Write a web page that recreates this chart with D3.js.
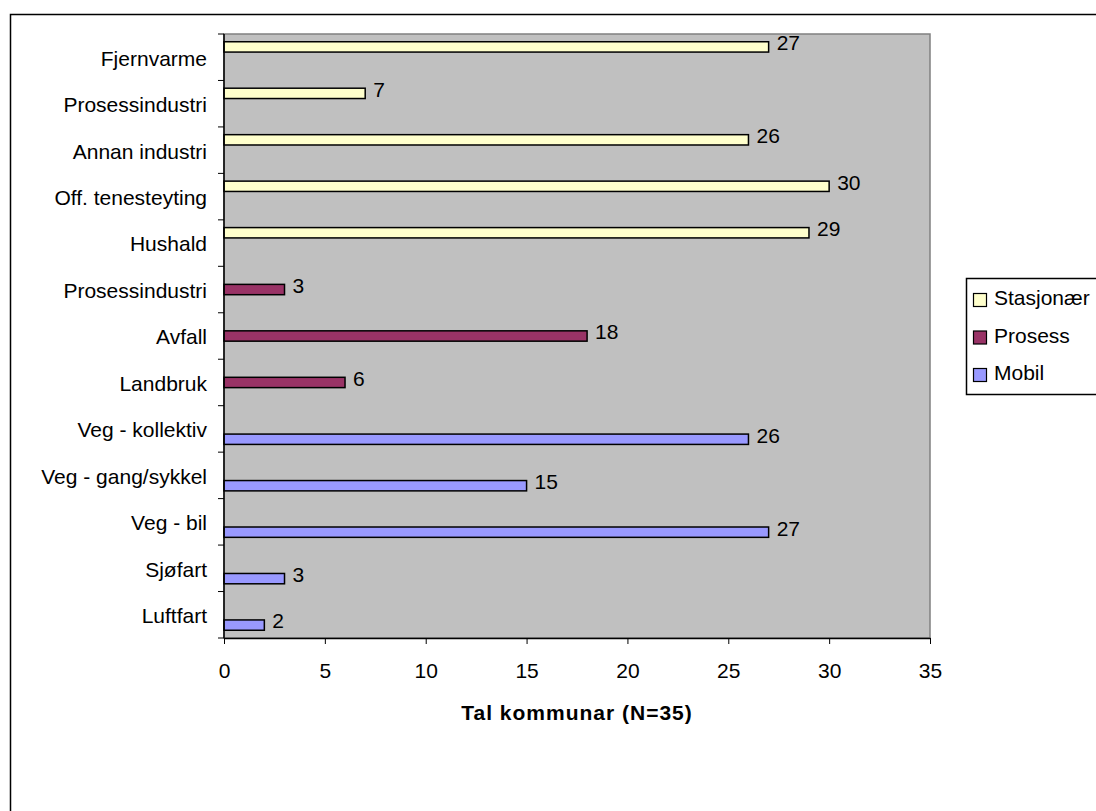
<!DOCTYPE html>
<html>
<head>
<meta charset="utf-8">
<script src="https://cdn.jsdelivr.net/npm/d3@7"></script>
<style>
  body { margin: 0; background: #fff; }
  svg { display: block; font-family: "Liberation Sans", Arial, sans-serif; }
</style>
</head>
<body>
<svg id="chart" width="1096" height="811"></svg>
<script>
// data
var categories = ["Fjernvarme", "Prosessindustri", "Annan industri", "Off. tenesteyting", "Hushald",
    "Prosessindustri", "Avfall", "Landbruk",
    "Veg - kollektiv", "Veg - gang/sykkel", "Veg - bil", "Sjøfart", "Luftfart"];
var seriesNames = ["Stasjonær", "Prosess", "Mobil"];
var seriesOf = ["Stasjonær", "Stasjonær", "Stasjonær", "Stasjonær", "Stasjonær",
    "Prosess", "Prosess", "Prosess",
    "Mobil", "Mobil", "Mobil", "Mobil", "Mobil"];
var values = [27, 7, 26, 30, 29, 3, 18, 6, 26, 15, 27, 3, 2];
var xTicks = [0, 5, 10, 15, 20, 25, 30, 35];
var axisTitle = "Tal kommunar (N=35)";

var colors = { "Stasjonær": "#FFFFCC", "Prosess": "#993366", "Mobil": "#9999FF" };

var svg = d3.select("#chart");

var plotLeft = 224, plotRight = 930, plotTop = 34, plotBottom = 638;
var fontSize = 21;

// outer chart border
svg.append("rect")
    .attr("x", 10.5).attr("y", 14.5)
    .attr("width", 1200).attr("height", 900)
    .attr("fill", "#fff")
    .attr("stroke", "#000")
    .attr("stroke-width", 1.5);

var x = d3.scaleLinear().domain([0, 35]).range([plotLeft, plotRight]);
var idx = d3.range(categories.length);
var y = d3.scaleBand().domain(idx).range([plotTop, plotBottom]);
var yInner = d3.scaleBand().domain(seriesNames).range([0, y.bandwidth()])
    .paddingInner(0).paddingOuter(0.75);

// plot area
svg.append("rect")
    .attr("x", plotLeft).attr("y", plotTop)
    .attr("width", plotRight - plotLeft).attr("height", plotBottom - plotTop)
    .attr("fill", "#C0C0C0")
    .attr("stroke", "#808080")
    .attr("stroke-width", 1.5);

// bars
var rows = idx.map(function (i) {
    return { i: i, name: categories[i], series: seriesOf[i], value: values[i] };
});

svg.append("g").selectAll("rect")
    .data(rows)
    .enter()
    .append("rect")
    .attr("x", x(0))
    .attr("y", function (d) { return y(d.i) + yInner(d.series); })
    .attr("width", function (d) { return x(d.value) - x(0); })
    .attr("height", yInner.bandwidth())
    .attr("fill", function (d) { return colors[d.series]; })
    .attr("stroke", "#000")
    .attr("stroke-width", 1.5);

// value labels
svg.append("g").selectAll("text")
    .data(rows)
    .enter()
    .append("text")
    .attr("x", function (d) { return x(d.value) + 8; })
    .attr("y", function (d) { return y(d.i) + yInner(d.series) + yInner.bandwidth() / 2 - 4; })
    .attr("dy", "0.35em")
    .attr("font-size", fontSize)
    .attr("fill", "#000")
    .text(function (d) { return d.value; });

// x axis
var xAxis = svg.append("g")
    .attr("transform", "translate(0," + plotBottom + ")")
    .call(d3.axisBottom(x).tickValues(xTicks).tickSize(6).tickPadding(19).tickSizeOuter(0));
xAxis.select(".domain").attr("stroke", "#000").attr("stroke-width", 1.5);
xAxis.selectAll(".tick line").attr("stroke", "#000");
xAxis.selectAll("text")
    .attr("font-size", fontSize)
    .attr("font-family", "Liberation Sans, Arial, sans-serif")
    .attr("fill", "#000");

// y axis
var yTickPos = d3.range(categories.length + 1).map(function (i) { return plotTop + i * y.step(); });
var yAxis = svg.append("g");
yAxis.append("line")
    .attr("x1", plotLeft).attr("x2", plotLeft)
    .attr("y1", plotTop).attr("y2", plotBottom)
    .attr("stroke", "#000").attr("stroke-width", 1.5);
yAxis.selectAll("line.tick")
    .data(yTickPos)
    .enter()
    .append("line")
    .attr("class", "tick")
    .attr("x1", plotLeft - 6).attr("x2", plotLeft)
    .attr("y1", function (d) { return d; }).attr("y2", function (d) { return d; })
    .attr("stroke", "#000");
yAxis.selectAll("text")
    .data(idx)
    .enter()
    .append("text")
    .attr("x", 207)
    .attr("y", function (i) { return y(i) + y.bandwidth() / 2 + 1; })
    .attr("dy", "0.35em")
    .attr("text-anchor", "end")
    .attr("font-size", fontSize)
    .text(function (i) { return categories[i]; });

// axis title
svg.append("text")
    .attr("x", (plotLeft + plotRight) / 2)
    .attr("y", 720)
    .attr("text-anchor", "middle")
    .attr("font-size", fontSize)
    .attr("font-weight", "bold")
    .attr("letter-spacing", 1)
    .text(axisTitle);

// legend
var legend = svg.append("g");
legend.append("rect")
    .attr("x", 966.5).attr("y", 278.5)
    .attr("width", 200).attr("height", 116)
    .attr("fill", "#fff")
    .attr("stroke", "#000")
    .attr("stroke-width", 1.5);
var legendRow = d3.scalePoint().domain(seriesNames).range([299, 374]);
var items = legend.selectAll("g.item")
    .data(seriesNames)
    .enter()
    .append("g")
    .attr("class", "item")
    .attr("transform", function (d) { return "translate(973," + legendRow(d) + ")"; });
items.append("rect")
    .attr("x", 0.5).attr("y", -5.5)
    .attr("width", 13).attr("height", 13)
    .attr("fill", function (d) { return colors[d]; })
    .attr("stroke", "#000")
    .attr("stroke-width", 1.2);
items.append("text")
    .attr("x", 21)
    .attr("y", 0)
    .attr("dy", "0.3em")
    .attr("font-size", fontSize)
    .text(function (d) { return d; });
</script>
</body>
</html>
